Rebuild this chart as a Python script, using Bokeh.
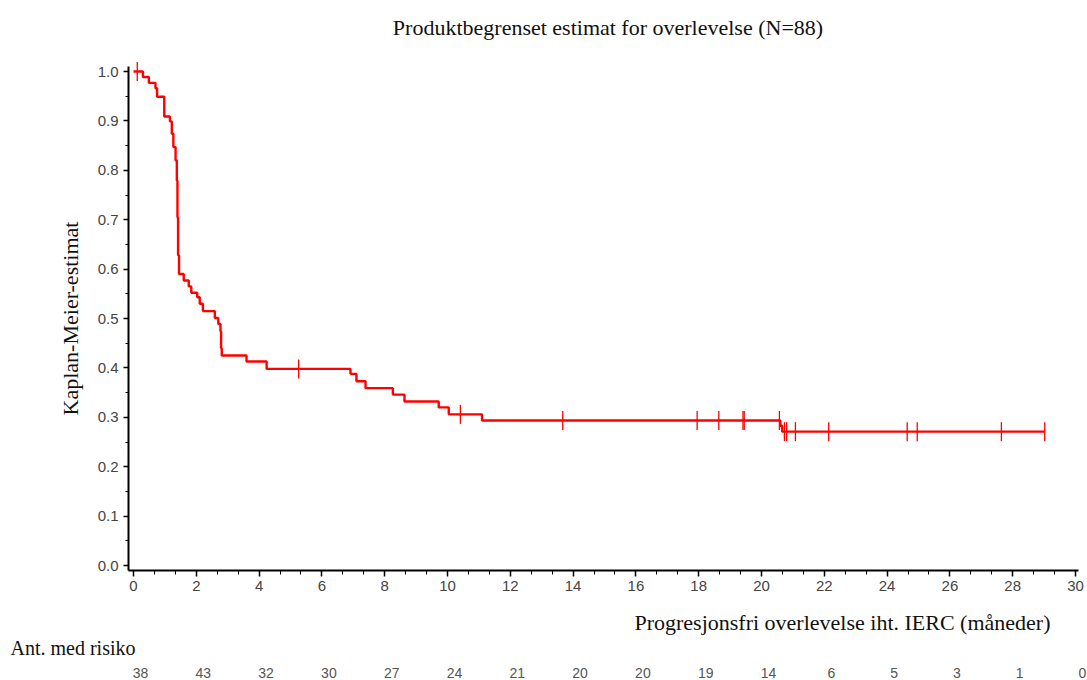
import numpy as np
from bokeh.plotting import figure
from bokeh.models import SingleIntervalTicker, NumeralTickFormatter, Range1d
from bokeh.core.properties import value
from bokeh.embed import file_html
from bokeh.resources import INLINE

# ---- data ----
event_times = [0.30, 0.49, 0.70, 0.75, 0.98, 1.16, 1.22, 1.27, 1.34, 1.38, 1.40, 1.42,
               1.45, 1.60, 1.76, 1.84, 2.03, 2.11, 2.21, 2.59, 2.70, 2.77, 2.79, 2.81,
               3.60, 4.24, 6.91, 7.10, 7.39, 8.26, 8.63, 9.72, 10.04, 11.10, 20.60, 20.66]
survival = [0.989, 0.977, 0.966, 0.949, 0.909, 0.899, 0.874, 0.847, 0.820, 0.779, 0.705, 0.628,
            0.590, 0.577, 0.565, 0.552, 0.543, 0.530, 0.515, 0.501, 0.489, 0.474, 0.440, 0.425,
            0.413, 0.398, 0.388, 0.373, 0.359, 0.346, 0.332, 0.320, 0.306, 0.2935, 0.283, 0.271]
last_followup = 29.02
censor_times = [0.12, 5.26, 10.41, 13.67, 17.95, 18.64, 19.41, 19.45, 20.57, 20.73, 20.80,
                21.08, 22.14, 24.64, 24.96, 27.64, 29.02]
risk_times = [0, 2, 4, 6, 8, 10, 12, 14, 16, 18, 20, 22, 24, 26, 28, 30]
at_risk = ["38", "43", "32", "30", "27", "24", "21", "20", "20", "19", "14", "6", "5", "3", "1", "0"]

title_text = "Produktbegrenset estimat for overlevelse (N=88)"
x_label = "Progresjonsfri overlevelse iht. IERC (måneder)"
y_label = "Kaplan-Meier-estimat"
risk_label = "Ant. med risiko"

# ---- step path ----
sx = np.array([0.0] + event_times + [last_followup])
sy = np.array([1.0] + survival + [survival[-1]])
knots_t = np.array([0.0] + event_times)
knots_s = np.array([1.0] + survival)
cidx = np.searchsorted(knots_t, np.array(censor_times), side="right") - 1
cy = knots_s[cidx]

# ---- layout geometry (pixels) ----
W, H = 1087, 680
PXX = 31.4          # px per month
PXY = 494.0         # px per unit of survival
X_ZERO_PX = 133     # canvas x of month 0
Y_ZERO_PX = 565     # canvas y of survival 0


def dx(px):
    return (px - X_ZERO_PX) / PXX


def dy(py):
    return (Y_ZERO_PX - py) / PXY


p = figure(width=W, height=H, output_backend="svg", toolbar_location=None,
           x_range=Range1d(dx(0), dx(W)), y_range=Range1d(dy(H), dy(0)),
           min_border=0, min_border_left=0, min_border_right=0,
           min_border_top=0, min_border_bottom=0)
p.outline_line_color = None
p.xgrid.visible = False
p.ygrid.visible = False

p.step(sx, sy, mode="after", line_color="#FF0000", line_width=2.4)
p.scatter(censor_times, cy, marker="dash", angle=np.pi / 2, size=19,
          line_color="#FF0000", line_width=1.3)

x_axis_pos = dy(570)
y_axis_pos = dx(128)
for ax in (p.xaxis[0], p.yaxis[0]):
    ax.axis_line_width = 2
    ax.axis_line_color = "black"
    ax.major_tick_line_color = "black"
    ax.minor_tick_line_color = "black"
    ax.major_tick_line_width = 1.5
    ax.major_tick_in = 0
    ax.minor_tick_in = 0
    ax.major_label_text_font = "Liberation Sans"
    ax.major_label_text_font_size = "15px"
    ax.major_label_text_color = "#444444"

p.xaxis.fixed_location = x_axis_pos
p.xaxis.bounds = (y_axis_pos, dx(1078))
p.xaxis.ticker = SingleIntervalTicker(interval=2, num_minor_ticks=3)
p.xaxis.major_tick_out = 6
p.xaxis.minor_tick_out = 4
p.xaxis.major_label_standoff = 4

p.yaxis.fixed_location = y_axis_pos
p.yaxis.bounds = (x_axis_pos, dy(66))
p.yaxis.ticker = SingleIntervalTicker(interval=0.1, num_minor_ticks=2)
p.yaxis.formatter = NumeralTickFormatter(format="0.0")
p.yaxis.major_tick_out = 5
p.yaxis.minor_tick_out = 3
p.yaxis.major_label_standoff = 5

serif = value("Liberation Serif")
p.text(x=[dx(607.5)], y=[dy(27)], text=[title_text], text_font=serif,
       text_font_size="22px", text_align="center", text_baseline="middle", text_color="#111111")
p.text(x=[dx(70)], y=[dy(318)], text=[y_label], text_font=serif, angle=np.pi / 2,
       text_font_size="22px", text_align="center", text_baseline="middle", text_color="#111111")
p.text(x=[dx(1050)], y=[dy(622)], text=[x_label], text_font=serif,
       text_font_size="22px", text_align="right", text_baseline="middle", text_color="#111111")
p.text(x=[dx(10)], y=[dy(647)], text=[risk_label], text_font=serif,
       text_font_size="20px", text_align="left", text_baseline="middle", text_color="#111111")
p.text(x=risk_times, y=[dy(672)] * len(risk_times), text=at_risk,
       text_font=value("Liberation Sans"), text_font_size="14px", text_align="center",
       x_offset=7, text_baseline="middle", text_color="#555555")

open("out.html", "w").write(file_html(p, INLINE))
